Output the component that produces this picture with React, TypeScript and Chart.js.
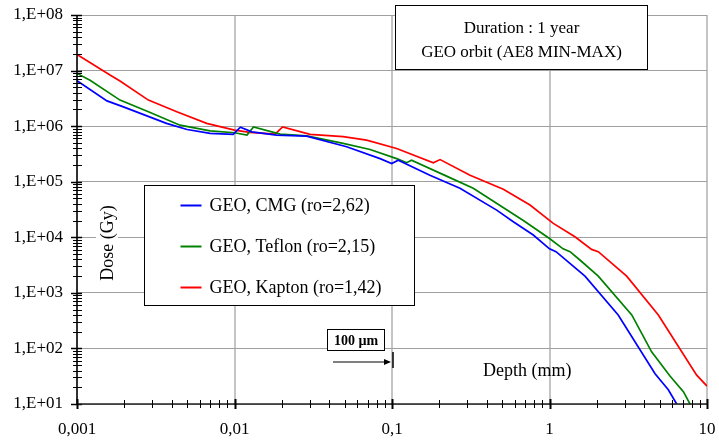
import React, { useEffect, useRef } from 'react';
import { Chart, registerables } from 'chart.js';

Chart.register(...registerables);

// ---- Data ----
const cmgDepth = [0.001, 0.00155, 0.00197, 0.0037, 0.005, 0.007, 0.0098, 0.0109, 0.0129, 0.0185, 0.0287, 0.0515, 0.084, 0.0995, 0.1096, 0.174, 0.27, 0.462, 0.589, 0.789, 1.0, 1.1, 1.68, 2.73, 4.68, 5.68, 6.42];
const cmgDose = [6.6e6, 2.85e6, 2.22e6, 1.12e6, 8.7e5, 7.4e5, 7.1e5, 9.6e5, 7.9e5, 6.9e5, 6.6e5, 4.25e5, 2.6e5, 2.13e5, 2.44e5, 1.31e5, 7.6e4, 3.08e4, 1.9e4, 1.1e4, 6.2e3, 5.5e3, 2.0e3, 4.0e2, 35, 18, 10];

const teflonDepth = [0.001, 0.00121, 0.001875, 0.00284, 0.00451, 0.007, 0.01, 0.012, 0.0132, 0.0195, 0.0287, 0.049, 0.0726, 0.107, 0.124, 0.133, 0.222, 0.328, 0.682, 1.0, 1.22, 1.35, 1.56, 2.04, 3.33, 4.45, 5.82, 7.08, 7.8];
const teflonDose = [8.9e6, 6.7e6, 2.94e6, 1.81e6, 1.04e6, 8.2e5, 7.6e5, 6.9e5, 9.7e5, 7.2e5, 6.7e5, 4.9e5, 3.8e5, 2.6e5, 2.2e5, 2.44e5, 1.26e5, 7.6e4, 2.0e4, 9.5e3, 6.2e3, 5.5e3, 3.9e3, 2.0e3, 400, 87, 32, 16.7, 10];

const kaptonDepth = [0.001, 0.00162, 0.001875, 0.00284, 0.0043, 0.00666, 0.01, 0.0125, 0.0181, 0.0202, 0.0302, 0.049, 0.069, 0.107, 0.183, 0.202, 0.313, 0.509, 0.752, 1.057, 1.45, 1.85, 2.04, 3.09, 4.91, 8.6, 10];
const kaptonDose = [1.95e7, 8.3e6, 6.5e6, 2.94e6, 1.81e6, 1.12e6, 8.5e5, 7.7e5, 7.2e5, 9.7e5, 7.1e5, 6.5e5, 5.6e5, 3.97e5, 2.19e5, 2.5e5, 1.31e5, 7.3e4, 3.8e4, 1.78e4, 1.02e4, 6.06e3, 5.5e3, 2.0e3, 400, 33, 21];

const seriesLabels = ['GEO, CMG (ro=2,62)', 'GEO, Teflon (ro=2,15)', 'GEO, Kapton (ro=1,42)'];
const seriesColors = ['#0000ff', '#008000', '#ff0000'];

const xTickValues = [0.001, 0.01, 0.1, 1, 10];
const xTickLabels = ['0,001', '0,01', '0,1', '1', '10'];
const yTickValues = [1e1, 1e2, 1e3, 1e4, 1e5, 1e6, 1e7, 1e8];
const yTickLabels = ['1,E+01', '1,E+02', '1,E+03', '1,E+04', '1,E+05', '1,E+06', '1,E+07', '1,E+08'];

const infoLines = ['Duration : 1 year', 'GEO orbit (AE8 MIN-MAX)'];
const xTitle = 'Depth (mm)';
const yTitle = 'Dose (Gy)';
const markerLabel = '100 µm';
const markerDepth = 0.1; // mm, position of the 100 µm marker

const FONT = '"Liberation Serif", "Times New Roman", serif';

const overlayPlugin = {
  id: 'overlay',
  afterDatasetsDraw(chart: any) {
    const ctx = chart.ctx as CanvasRenderingContext2D;
    const { left, right, top, bottom } = chart.chartArea;
    const xs = chart.scales.x;
    const ys = chart.scales.y;
    ctx.save();

    // Y axis line and ticks
    ctx.strokeStyle = '#000';
    ctx.lineWidth = 1.5;
    ctx.beginPath();
    ctx.moveTo(left, top);
    ctx.lineTo(left, bottom + 1);
    ctx.stroke();
    for (let d = 1; d <= 8; d++) {
      for (let k = 1; k <= 9; k++) {
        if (d === 8 && k > 1) break;
        const v = k * Math.pow(10, d);
        const py = Math.round(ys.getPixelForValue(v)) + 0.5;
        ctx.beginPath();
        ctx.lineWidth = k === 1 ? 1.5 : 1;
        ctx.moveTo(left - (k === 1 ? 6 : 4), py);
        ctx.lineTo(left + 5, py);
        ctx.stroke();
      }
    }

    // X axis line and ticks
    ctx.strokeStyle = '#222';
    ctx.lineWidth = 1.5;
    ctx.beginPath();
    ctx.moveTo(left, bottom);
    ctx.lineTo(right, bottom);
    ctx.stroke();
    ctx.strokeStyle = '#000';
    for (let d = -3; d <= 1; d++) {
      for (let k = 1; k <= 9; k++) {
        if (d === 1 && k > 1) break;
        const v = k * Math.pow(10, d);
        const px = Math.round(xs.getPixelForValue(v)) + 0.5;
        ctx.beginPath();
        ctx.lineWidth = k === 1 ? 2 : 1;
        const h = k === 1 ? 5 : 4;
        ctx.moveTo(px, bottom - h);
        ctx.lineTo(px, bottom + h);
        ctx.stroke();
      }
    }

    // Legend box
    const lx = left + 67.5, ly = top + 170.5, lw = 270, lh = 120;
    ctx.fillStyle = '#fff';
    ctx.fillRect(lx, ly, lw, lh);
    ctx.strokeStyle = '#000';
    ctx.lineWidth = 1;
    ctx.strokeRect(lx, ly, lw, lh);
    ctx.font = `18px ${FONT}`;
    ctx.textBaseline = 'middle';
    ctx.textAlign = 'left';
    chart.data.datasets.forEach((ds: any, i: number) => {
      const ry = ly + 20 + i * 41;
      ctx.strokeStyle = ds.borderColor;
      ctx.lineWidth = 2;
      ctx.beginPath();
      ctx.moveTo(lx + 36, ry);
      ctx.lineTo(lx + 57, ry);
      ctx.stroke();
      ctx.fillStyle = '#000';
      ctx.fillText(ds.label, lx + 65, ry + 1);
    });

    // Info box (top right)
    const bx = left + 318.5, by = top - 9.5, bw = 252, bh = 64;
    ctx.fillStyle = '#fff';
    ctx.fillRect(bx, by, bw, bh);
    ctx.strokeStyle = '#000';
    ctx.lineWidth = 1;
    ctx.strokeRect(bx, by, bw, bh);
    ctx.fillStyle = '#000';
    ctx.font = `17px ${FONT}`;
    ctx.textAlign = 'center';
    ctx.fillText(infoLines[0], bx + bw / 2, by + 23);
    ctx.fillText(infoLines[1], bx + bw / 2, by + 47);

    // X title inside plot
    ctx.font = `18px ${FONT}`;
    ctx.textAlign = 'left';
    ctx.fillText(xTitle, left + 406, bottom - 33);

    // Y title (rotated) with white background
    ctx.save();
    ctx.translate(left + 30, top + 228);
    ctx.rotate(-Math.PI / 2);
    ctx.font = `18px ${FONT}`;
    const tw = ctx.measureText(yTitle).width;
    ctx.fillStyle = '#fff';
    ctx.fillRect(-tw / 2 - 2, -11, tw + 4, 22);
    ctx.fillStyle = '#000';
    ctx.textAlign = 'center';
    ctx.fillText(yTitle, 0, 1);
    ctx.restore();

    // 100 µm marker
    const mx = xs.getPixelForValue(markerDepth);
    const my = ys.getPixelForValue(57);
    ctx.strokeStyle = '#000';
    ctx.lineWidth = 1.2;
    ctx.beginPath();
    ctx.moveTo(mx - 59, my);
    ctx.lineTo(mx - 4, my);
    ctx.stroke();
    ctx.fillStyle = '#000';
    ctx.beginPath();
    ctx.moveTo(mx - 1, my);
    ctx.lineTo(mx - 8, my - 3);
    ctx.lineTo(mx - 8, my + 3);
    ctx.closePath();
    ctx.fill();
    ctx.lineWidth = 1.5;
    ctx.beginPath();
    ctx.moveTo(mx + 1, my - 10);
    ctx.lineTo(mx + 1, my + 6);
    ctx.stroke();

    const kx = mx - 64.5, ky = my - 32.5, kw = 57, kh = 21;
    ctx.fillStyle = '#fff';
    ctx.fillRect(kx, ky, kw, kh);
    ctx.strokeStyle = '#000';
    ctx.lineWidth = 1;
    ctx.strokeRect(kx, ky, kw, kh);
    ctx.fillStyle = '#000';
    ctx.font = `bold 14px ${FONT}`;
    ctx.textAlign = 'center';
    ctx.fillText(markerLabel, kx + kw / 2, ky + kh / 2 + 1);

    ctx.restore();
  },
};

const zeroPad = (s: any) => {
  s.paddingLeft = 0;
  s.paddingRight = 0;
  s.paddingTop = 0;
  s.paddingBottom = 0;
};

export default function App() {
  const canvasRef = useRef<HTMLCanvasElement | null>(null);

  useEffect(() => {
    document.body.style.margin = '0';
    const canvas = canvasRef.current;
    if (!canvas) return;
    const series = [
      { depth: cmgDepth, dose: cmgDose },
      { depth: teflonDepth, dose: teflonDose },
      { depth: kaptonDepth, dose: kaptonDose },
    ];
    const chart = new Chart(canvas, {
      type: 'line',
      data: {
        datasets: series.map((s, i) => ({
          label: seriesLabels[i],
          data: s.depth.map((d, j) => ({ x: d, y: s.dose[j] })),
          borderColor: seriesColors[i],
          backgroundColor: seriesColors[i],
          borderWidth: 1.7,
          pointRadius: 0,
          fill: false,
          tension: 0,
        })),
      },
      options: {
        animation: false,
        responsive: false,
        maintainAspectRatio: false,
        layout: { padding: { top: 15, right: 12, left: 0, bottom: 0 } },
        plugins: { legend: { display: false }, tooltip: { enabled: false } },
        scales: {
          x: {
            type: 'logarithmic',
            min: 0.001,
            max: 10,
            afterFit: (s: any) => { s.height = 37; zeroPad(s); },
            afterBuildTicks: (s: any) => { s.ticks = xTickValues.map((v) => ({ value: v, major: true })); },
            ticks: {
              autoSkip: false,
              maxRotation: 0,
              padding: 15,
              color: '#000',
              font: { family: FONT, size: 17 },
              callback: (_v: any, i: number) => xTickLabels[i],
            },
            grid: { color: '#c4c4c4', lineWidth: 2, drawTicks: false },
            border: { display: false },
          },
          y: {
            type: 'logarithmic',
            min: 1e1,
            max: 1e8,
            afterFit: (s: any) => { s.width = 77; zeroPad(s); },
            afterBuildTicks: (s: any) => { s.ticks = yTickValues.map((v) => ({ value: v, major: true })); },
            ticks: {
              autoSkip: false,
              padding: 14,
              color: '#000',
              font: { family: FONT, size: 17 },
              callback: (_v: any, i: number) => yTickLabels[i],
            },
            grid: { color: '#a0a0a0', lineWidth: 1, drawTicks: false },
            border: { display: false },
          },
        },
      },
      plugins: [overlayPlugin],
    } as any);
    return () => chart.destroy();
  }, []);

  return (
    <div style={{ position: 'absolute', left: 0, top: 0, width: 719, height: 441, background: '#fff' }}>
      <canvas ref={canvasRef} width={719} height={441} style={{ display: 'block', width: 719, height: 441 }} />
    </div>
  );
}
